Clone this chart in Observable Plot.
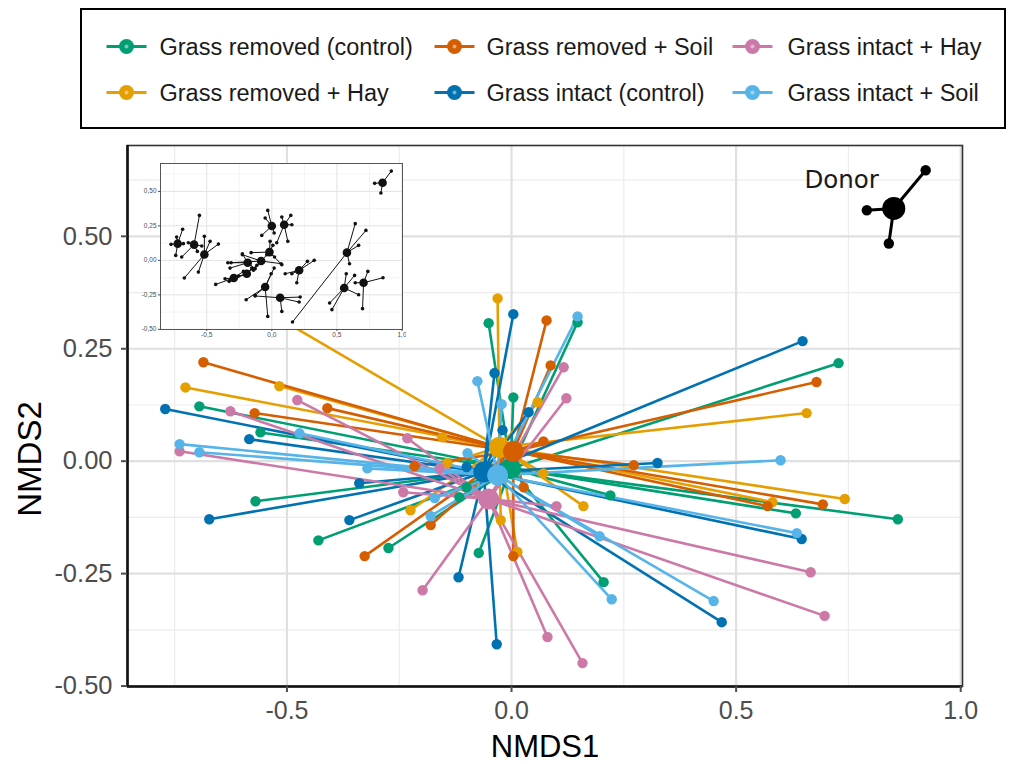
<!DOCTYPE html>
<html><head><meta charset="utf-8">
<script src="https://cdn.jsdelivr.net/npm/d3@7"></script>
<script src="https://cdn.jsdelivr.net/npm/@observablehq/plot@0.6"></script>
<style>
body{margin:0;background:#fff;font-family:"Liberation Sans",Arial,sans-serif;}
#wrap{position:relative;width:1010px;height:764px;overflow:hidden;}
#legend{position:absolute;left:80px;top:8px;width:922px;height:117px;border:2.8px solid #000;background:#fff;}
#chart{position:absolute;left:0;top:137px;}
#inset{position:absolute;left:130px;top:150px;}
</style></head><body>
<div id="wrap"><div id="legend"></div><div id="chart"></div><div id="inset"></div></div>
<script>
// ---- categories and colours ----
const groups = ["Grass removed (control)","Grass removed + Hay","Grass removed + Soil","Grass intact (control)","Grass intact + Hay","Grass intact + Soil"];
const groupColors = ["#009E73","#E69F00","#D55E00","#0072B2","#CC79A7","#56B4E9"];

// ---- group centroids (NMDS1, NMDS2) ----
const centroidX = [-0.002,-0.027,0.004,-0.062,-0.051,-0.031];
const centroidY = [-0.016,0.031,0.022,-0.024,-0.084,-0.031];

// ---- plot scores per group [NMDS1, NMDS2] ----
const removedControl = [[-0.051,0.307],[0.147,0.309],[0.004,0.142],[0.728,0.218],[0.860,-0.129],[0.633,-0.116],[0.220,-0.076],[0.205,-0.269],[-0.073,-0.204],[-0.100,-0.058],[-0.116,-0.080],[-0.695,0.122],[-0.559,0.064],[-0.570,-0.089],[-0.430,-0.176],[-0.274,-0.193]];
const removedHay = [[-0.031,0.362],[0.058,0.131],[0.657,0.107],[0.742,-0.084],[0.581,-0.091],[0.160,-0.100],[-0.024,-0.131],[0.013,-0.202],[0.071,-0.027],[-0.726,0.164],[-0.517,0.167],[-0.154,0.053],[-0.143,-0.004],[-0.225,-0.109],[-0.503,0.309]];
const removedSoil = [[0.078,0.313],[0.087,0.213],[0.071,0.044],[0.679,0.176],[0.272,-0.009],[0.693,-0.096],[0.570,-0.100],[0.027,-0.058],[0.004,-0.211],[-0.686,0.220],[-0.410,0.118],[-0.572,0.107],[-0.216,-0.011],[-0.180,-0.142],[-0.327,-0.211]];
const intactControl = [[0.004,0.327],[-0.038,0.196],[0.038,0.109],[-0.020,0.069],[0.648,0.267],[0.325,-0.004],[0.646,-0.173],[0.468,-0.358],[-0.033,-0.407],[-0.118,-0.258],[-0.100,-0.013],[-0.771,0.116],[-0.584,0.049],[-0.339,-0.049],[-0.361,-0.131],[-0.673,-0.129]];
const intactHay = [[0.116,0.209],[0.122,0.140],[0.100,-0.100],[0.666,-0.247],[0.697,-0.344],[0.080,-0.391],[0.158,-0.449],[-0.198,-0.287],[-0.477,0.136],[-0.626,0.111],[-0.739,0.022],[-0.232,0.051],[-0.241,-0.069],[-0.160,-0.016]];
const intactSoil = [[0.147,0.322],[-0.076,0.178],[-0.022,0.127],[-0.098,0.018],[0.599,0.002],[0.635,-0.160],[0.450,-0.311],[0.223,-0.307],[0.196,-0.167],[-0.472,0.062],[-0.739,0.038],[-0.695,0.020],[-0.321,-0.016],[-0.171,-0.082],[-0.180,-0.122]];
const groupPoints = [removedControl, removedHay, removedSoil, intactControl, intactHay, intactSoil];

// ---- donor ----
const donorCentroid = [0.851,0.562];
const donorPoints = [[0.922,0.647],[0.791,0.558],[0.840,0.484]];
const donorLabel = "Donor";

// ---- axes ----
const xTicks = [-0.5,0,0.5,1.0];
const yTicks = [-0.5,-0.25,0,0.25,0.5];
const xMinor = [-0.75,-0.25,0.25,0.75];
const yMinor = [-0.375,-0.125,0.125,0.375,0.625];
const xTitle = "NMDS1", yTitle = "NMDS2";
const xDomain = [-0.855,1.004], yDomain = [-0.501,0.702];

// ---- inset (all sites) ----
const insetCentroids = [[-0.723,0.121],[-0.597,0.114],[-0.518,0.043],[0.000,0.249],[0.095,0.258],[-0.018,0.060],[-0.082,-0.005],[-0.185,-0.017],[-0.192,-0.097],[-0.292,-0.128],[-0.051,-0.193],[0.064,-0.271],[0.210,-0.072],[0.577,0.056],[0.556,-0.200],[0.705,-0.162],[0.851,0.563]];
const insetPoints = [
 [0,-0.685,0.225],[0,-0.731,0.169],[0,-0.774,0.116],[0,-0.738,0.036],[0,-0.679,0.121],
 [1,-0.556,0.326],[1,-0.692,0.024],[1,-0.641,0.128],[1,-0.538,0.104],[1,-0.572,0.065],
 [2,-0.672,-0.128],[2,-0.564,-0.085],[2,-0.518,0.174],[2,-0.474,0.138],[2,-0.410,0.118],
 [3,-0.031,0.362],[3,-0.051,0.307],[3,-0.077,0.181],[3,0.018,0.198],
 [4,0.077,0.314],[4,0.146,0.326],[4,0.123,0.138],[4,0.038,0.128],[4,0.154,0.258],
 [5,-0.159,0.056],[5,-0.013,0.138],[5,0.008,0.109],[5,0.077,-0.031],[5,0.021,0.024],
 [6,-0.313,-0.017],[6,0.072,-0.024],[6,-0.226,0.041],[6,-0.141,-0.072],[6,-0.038,0.041],
 [7,-0.338,-0.017],[7,-0.321,-0.056],[7,-0.226,0.048],[7,-0.128,-0.060],
 [8,-0.321,-0.145],[8,-0.256,-0.114],[8,-0.154,-0.056],[8,-0.115,-0.036],
 [9,-0.431,-0.174],[9,-0.359,-0.133],[9,-0.328,-0.152],[9,-0.218,-0.080],
 [10,-0.197,-0.285],[10,-0.031,-0.406],[10,0.018,-0.056],[10,-0.005,-0.097],[10,-0.128,-0.254],
 [11,-0.128,-0.258],[11,0.077,-0.370],[11,0.210,-0.302],[11,0.218,-0.266],
 [12,0.103,-0.097],[12,0.154,-0.097],[12,0.192,-0.162],[12,0.274,-0.007],[12,0.326,0.000],
 [13,0.159,-0.447],[13,0.641,0.266],[13,0.723,0.217],[13,0.597,-0.024],[13,0.667,0.109],
 [14,0.444,-0.309],[14,0.462,-0.357],[14,0.572,-0.097],[14,0.636,-0.109],[14,0.667,-0.249],
 [15,0.641,-0.162],[15,0.697,-0.350],[15,0.738,-0.080],[15,0.854,-0.126],
 [16,0.918,0.647],[16,0.790,0.558],[16,0.838,0.488]
];

// ---- build tables ----
const spokes = groups.flatMap((g,i) => groupPoints[i].map(([x,y]) => ({g, x1:centroidX[i], y1:centroidY[i], x2:x, y2:y})));
const points = groups.flatMap((g,i) => groupPoints[i].map(([x,y]) => ({g, x, y})));
const cents = groups.map((g,i) => ({g, x:centroidX[i], y:centroidY[i]}));
const donorSpokes = donorPoints.map(([x,y]) => ({x1:donorCentroid[0], y1:donorCentroid[1], x2:x, y2:y}));

const font = "Liberation Sans, Arial, Helvetica, sans-serif";

const chart = Plot.plot({
  width:1010, height:627,
  marginLeft:127, marginRight:48, marginTop:8, marginBottom:78,
  style:{fontFamily:font, background:"white"},
  x:{domain:xDomain, label:null},
  y:{domain:yDomain, label:null},
  color:{domain:groups, range:groupColors},
  marks:[
    Plot.gridX(xMinor, {stroke:"#ececec", strokeOpacity:1, strokeWidth:1.2}),
    Plot.gridY(yMinor, {stroke:"#ececec", strokeOpacity:1, strokeWidth:1.2}),
    Plot.gridX(xTicks, {stroke:"#e0e0e0", strokeOpacity:1, strokeWidth:2.2}),
    Plot.gridY(yTicks, {stroke:"#e0e0e0", strokeOpacity:1, strokeWidth:2.2}),
    Plot.link(spokes, {x1:"x1", y1:"y1", x2:"x2", y2:"y2", stroke:"g", strokeWidth:2.6}),
    Plot.dot(points, {x:"x", y:"y", fill:"g", r:5.2}),
    Plot.dot(cents, {x:"x", y:"y", fill:"g", r:10.5}),
    Plot.link(donorSpokes, {x1:"x1", y1:"y1", x2:"x2", y2:"y2", stroke:"black", strokeWidth:3}),
    Plot.dot(donorPoints, {x:d=>d[0], y:d=>d[1], fill:"black", r:5.2}),
    Plot.dot([donorCentroid], {x:d=>d[0], y:d=>d[1], fill:"black", r:11.5}),
    Plot.text([donorLabel], {x:0.735, y:0.624, text:d=>d, fontSize:24.5, fontFamily:"DejaVu Sans", fill:"#1a1a1a"}),
    Plot.frame({stroke:"#333", strokeWidth:1.6}),
    Plot.ruleX([xDomain[0]], {stroke:"#111", strokeWidth:2.6}),
    Plot.ruleY([yDomain[0]], {stroke:"#111", strokeWidth:2.6}),
    Plot.axisX(xTicks, {tickFormat:d=>d.toFixed(1), tickSize:6, tickPadding:9, fontSize:25, color:"#4d4d4d", strokeWidth:2, label:null}),
    Plot.axisY(yTicks, {tickFormat:d=>d.toFixed(2), tickSize:6, tickPadding:9, fontSize:25.5, color:"#4d4d4d", strokeWidth:2, label:null}),
    Plot.text([xTitle], {frameAnchor:"bottom", dy:70, text:d=>d, fontSize:31, fill:"#000"}),
    Plot.text([yTitle], {y:0.005, frameAnchor:"left", textAnchor:"middle", dx:-97, rotate:-90, text:d=>d, fontSize:33, fill:"#000"})
  ]
});
document.getElementById("chart").appendChild(chart);

// ---- inset ----
const insetLinks = insetPoints.map(([c,x,y]) => ({x1:insetCentroids[c][0], y1:insetCentroids[c][1], x2:x, y2:y}));
const comma = (d,n) => d.toFixed(n).replace(".", ",");
const inset = Plot.plot({
  width:276, height:195,
  marginLeft:30, marginRight:4, marginTop:13, marginBottom:16,
  style:{fontFamily:font, background:"transparent"},
  x:{domain:xDomain, label:null},
  y:{domain:yDomain, label:null},
  marks:[
    Plot.frame({fill:"white"}),
    Plot.gridX(xMinor, {stroke:"#efefef", strokeOpacity:1, strokeWidth:0.7}),
    Plot.gridY(yMinor, {stroke:"#efefef", strokeOpacity:1, strokeWidth:0.7}),
    Plot.gridX(xTicks, {stroke:"#e2e2e2", strokeOpacity:1, strokeWidth:1}),
    Plot.gridY(yTicks, {stroke:"#e2e2e2", strokeOpacity:1, strokeWidth:1}),
    Plot.link(insetLinks, {x1:"x1", y1:"y1", x2:"x2", y2:"y2", stroke:"#111", strokeWidth:1}),
    Plot.dot(insetPoints, {x:d=>d[1], y:d=>d[2], fill:"#111", r:1.8}),
    Plot.dot(insetCentroids, {x:d=>d[0], y:d=>d[1], fill:"#111", r:4.3}),
    Plot.frame({stroke:"#555", strokeWidth:1}),
    Plot.axisX(xTicks, {tickFormat:d=>comma(d,1), tickSize:2, tickPadding:1, fontSize:6.5, color:"#4d4d4d", label:null}),
    Plot.axisY(yTicks, {tickFormat:d=>comma(d,2), tickSize:2, tickPadding:2, fontSize:6.5, color:"#4d4d4d", label:null})
  ]
});
document.getElementById("inset").appendChild(inset);

// ---- legend ----
const legendOrder = [0,2,4,1,3,5]; // row-major as drawn
const keyX = [44.5, 372.5, 670.5], textX = [77.5, 404.5, 705.5], rowY = [36.5, 82.5];
const lsvg = d3.select("#legend").append("svg").attr("width",922).attr("height",117)
  .style("font-family", font);
legendOrder.forEach((gi, k) => {
  const col = k % 3, row = Math.floor(k / 3);
  const g = lsvg.append("g").attr("transform", `translate(${keyX[col]},${rowY[row]})`);
  g.append("line").attr("x1",-20).attr("x2",20).attr("stroke",groupColors[gi]).attr("stroke-width",3);
  g.append("circle").attr("r",7.5).attr("fill",groupColors[gi]);
  g.append("circle").attr("r",2).attr("fill","white").attr("opacity",0.45);
  lsvg.append("text").attr("x",textX[col]).attr("y",rowY[row]).attr("dy","0.35em")
    .attr("font-size",23.5).attr("fill","#1a1a1a").text(groups[gi]);
});
</script>
</body></html>
